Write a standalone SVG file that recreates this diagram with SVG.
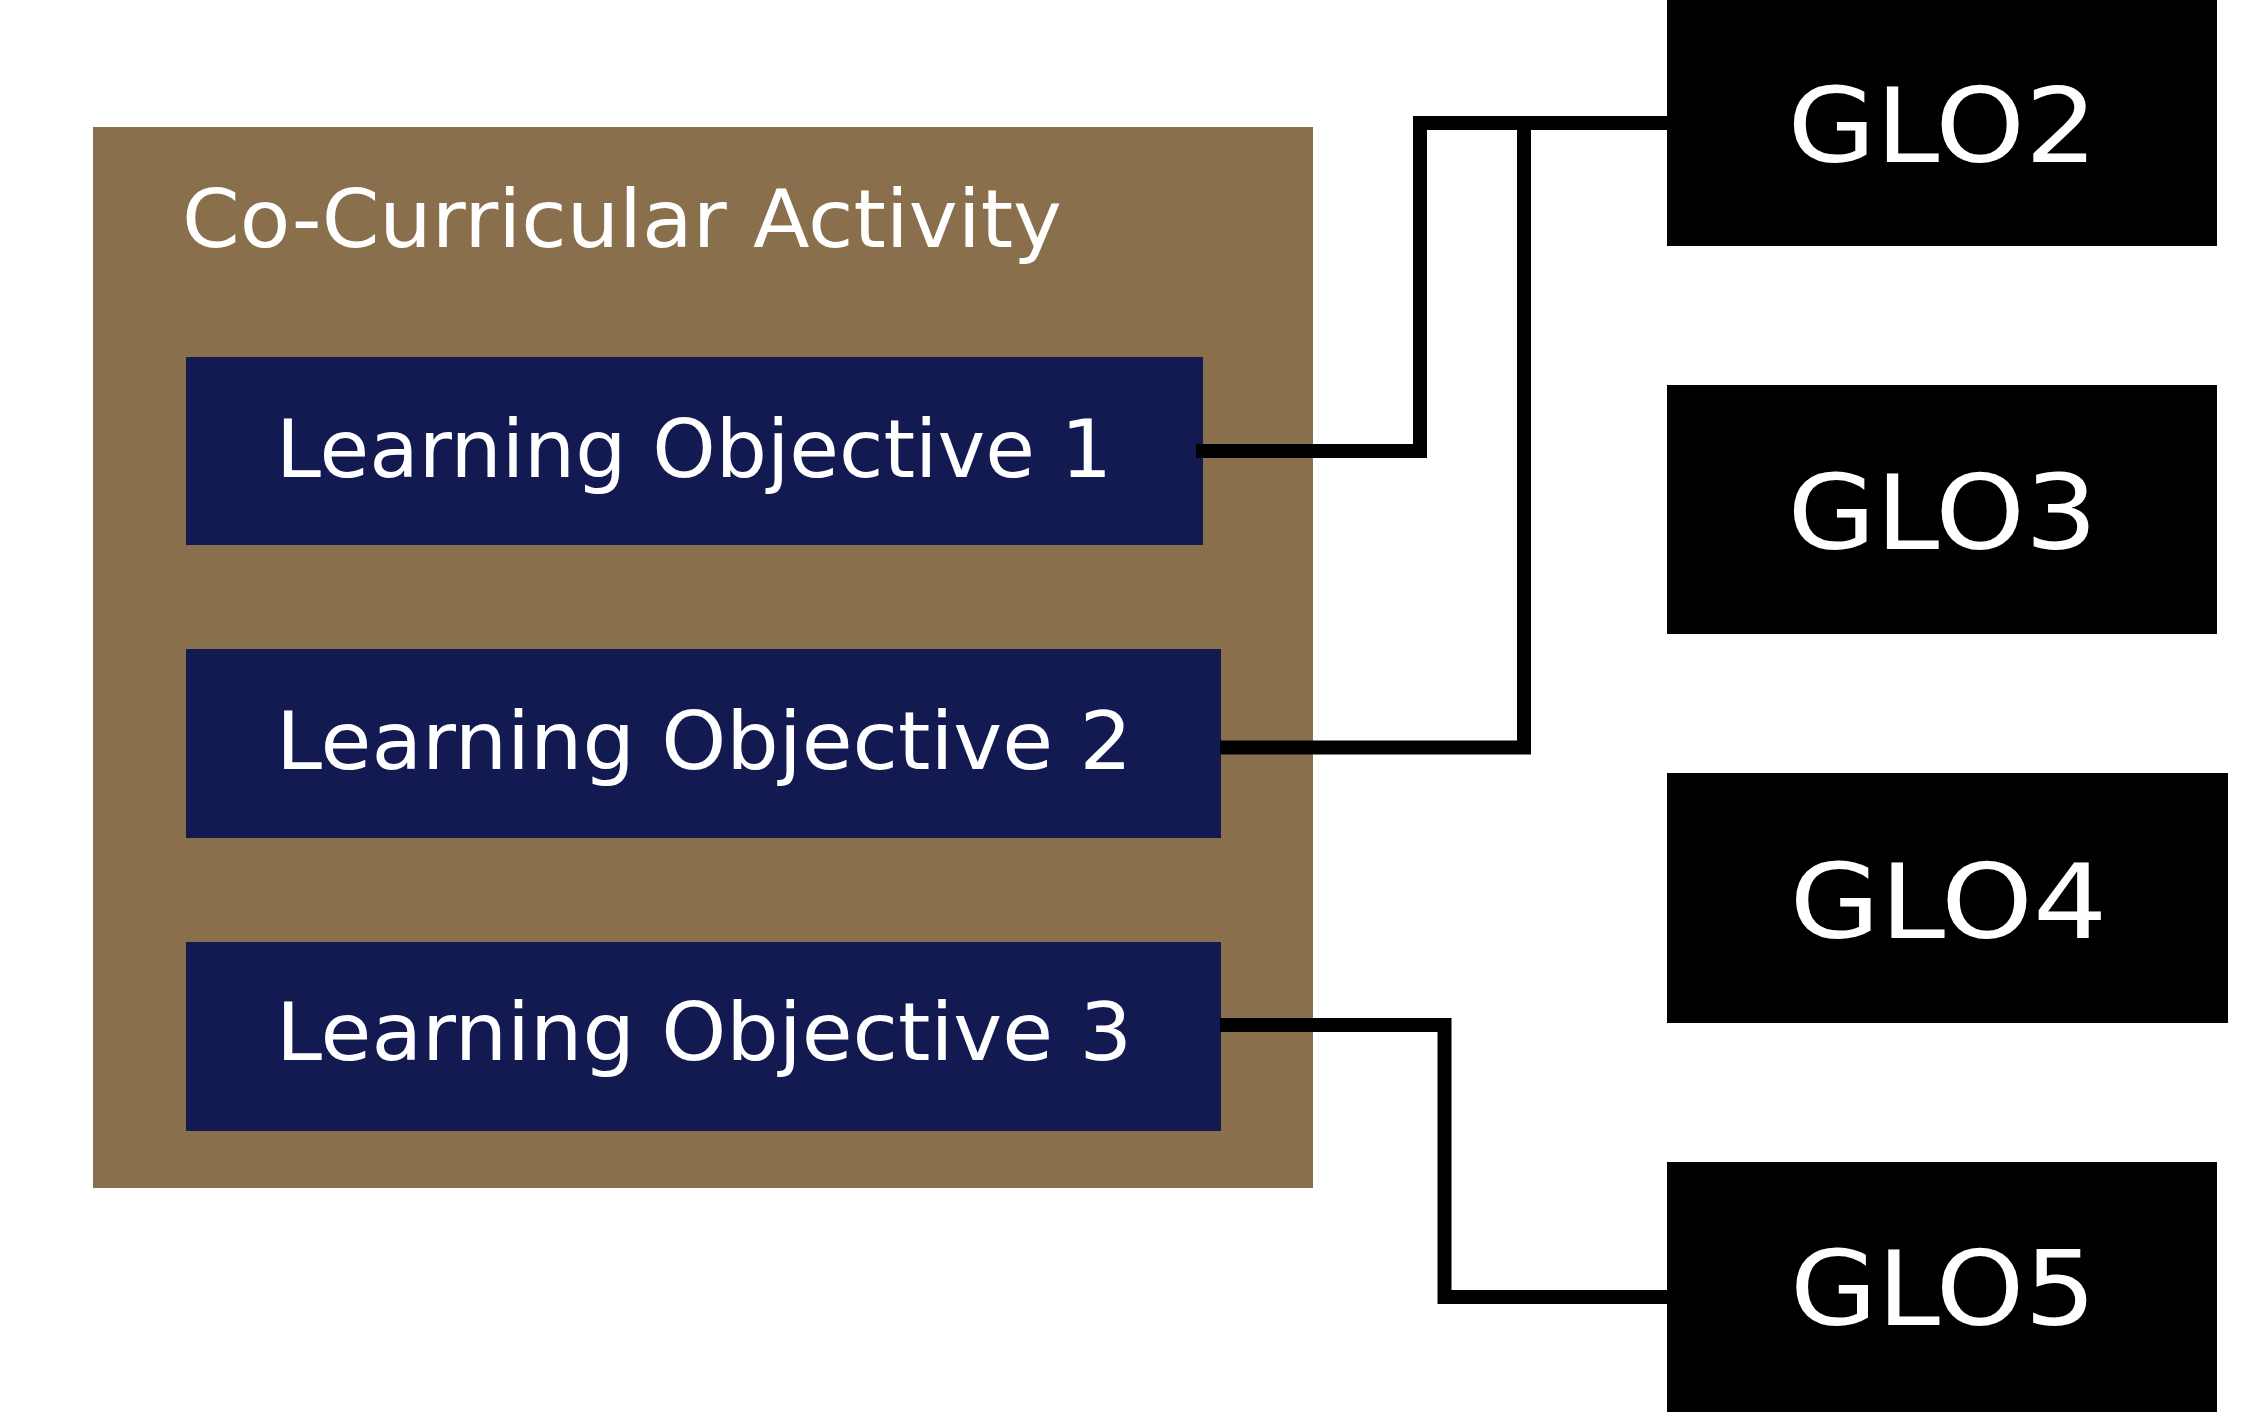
<svg xmlns="http://www.w3.org/2000/svg" width="2245" height="1426" viewBox="0 0 2245 1426">
<style>
.bg{fill:#ffffff}
.activity{fill:#8A6F4D}
.lo{fill:#131951}
.glo{fill:#000000}
.t{fill:#ffffff;font-family:"DejaVu Sans","Liberation Sans",sans-serif}
.lot{font-size:80px}
.title{font-size:81px}
.glot{font-size:103px;text-anchor:middle}
.conn{fill:none;stroke:#000000;stroke-width:14;stroke-linejoin:miter;stroke-linecap:butt}
</style>
<rect class="bg" x="0" y="0" width="2245" height="1426"/>
<g id="activity">
<rect class="activity" x="93" y="127" width="1220" height="1061"/>
<text class="t title" x="182" y="247" textLength="880" lengthAdjust="spacingAndGlyphs">Co-Curricular Activity</text>
</g>
<g id="lo1">
<rect class="lo" x="186" y="357" width="1017" height="188"/>
<text class="t lot" x="276" y="477" textLength="836" lengthAdjust="spacingAndGlyphs">Learning Objective 1</text>
</g>
<g id="lo2">
<rect class="lo" x="186" y="649" width="1035" height="189"/>
<text class="t lot" x="276" y="769" textLength="856" lengthAdjust="spacingAndGlyphs">Learning Objective 2</text>
</g>
<g id="lo3">
<rect class="lo" x="186" y="942" width="1035" height="189"/>
<text class="t lot" x="276" y="1060" textLength="856" lengthAdjust="spacingAndGlyphs">Learning Objective 3</text>
</g>
<g id="connectors">
<path class="conn" d="M1196,451 H1420 V123 H1667"/>
<path class="conn" d="M1220,747.5 H1524 V123"/>
<path class="conn" d="M1220,1025 H1444.5 V1297 H1667"/>
</g>
<g id="glo2">
<rect class="glo" x="1667" y="0" width="550" height="246"/>
<text class="t glot" x="1942.5" y="162" textLength="310" lengthAdjust="spacingAndGlyphs">GLO2</text>
</g>
<g id="glo3">
<rect class="glo" x="1667" y="385" width="550" height="249"/>
<text class="t glot" x="1942.5" y="549" textLength="310" lengthAdjust="spacingAndGlyphs">GLO3</text>
</g>
<g id="glo4">
<rect class="glo" x="1667" y="773" width="561" height="250"/>
<text class="t glot" x="1948.5" y="938" textLength="318" lengthAdjust="spacingAndGlyphs">GLO4</text>
</g>
<g id="glo5">
<rect class="glo" x="1667" y="1162" width="550" height="250"/>
<text class="t glot" x="1943" y="1325" textLength="306" lengthAdjust="spacingAndGlyphs">GLO5</text>
</g>
</svg>
